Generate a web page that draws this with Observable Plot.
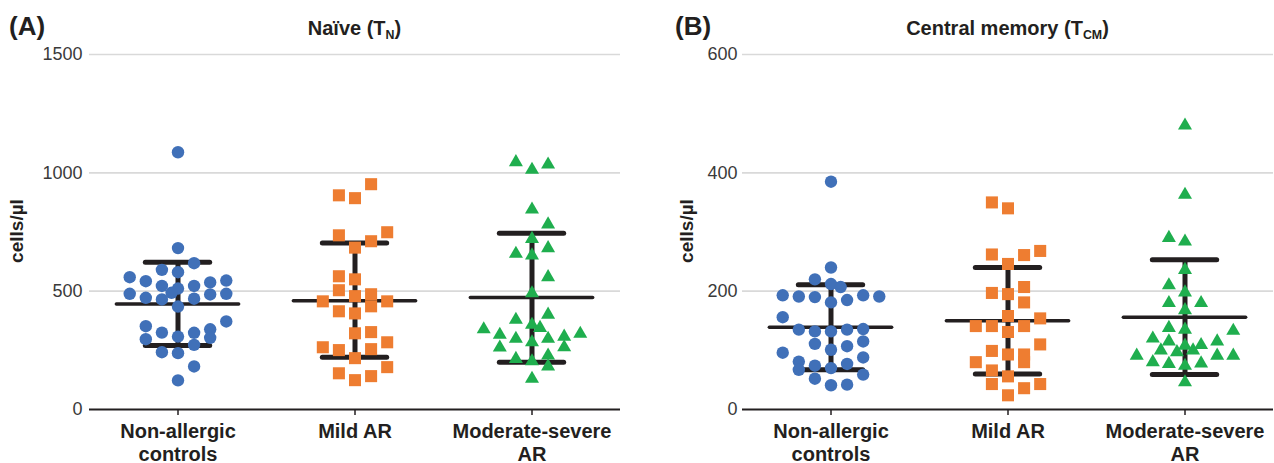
<!DOCTYPE html>
<html>
<head>
<meta charset="utf-8">
<script src="https://cdn.jsdelivr.net/npm/d3@7"></script>
<script src="https://cdn.jsdelivr.net/npm/@observablehq/plot@0.6"></script>
<style>
  html, body { margin: 0; padding: 0; background: #fff; }
  body { font-family: "Liberation Sans", Arial, sans-serif; color: #231f20; }
  #wrap { display: flex; width: 1274px; height: 463px; }
  .panel { position: relative; width: 637px; height: 463px; }
  .panel svg { position: absolute; left: 0; top: 44px; }
  .tag { position: absolute; font-weight: bold; font-size: 26px; line-height: 1; top: 13px; }
  .title { position: absolute; font-weight: bold; font-size: 20px; line-height: 1; top: 18px; text-align: center; white-space: nowrap; }
  .title sub { font-size: 0.62em; vertical-align: -0.3em; line-height: 0; }
  .ylab { position: absolute; font-weight: bold; font-size: 19px; line-height: 1; white-space: nowrap;
          transform: translate(-50%, -50%) rotate(-90deg); top: 231px; }
</style>
</head>
<body>
<div id="wrap">
  <div class="panel" id="pA">
    <div class="tag" style="left:9px">(A)</div>
    <div class="title" style="left:89px;width:531px">Naïve (T<sub>N</sub>)</div>
    <div class="ylab" style="left:16px">cells/µl</div>
  </div>
  <div class="panel" id="pB">
    <div class="tag" style="left:38px">(B)</div>
    <div class="title" style="left:105px;width:531px">Central memory (T<sub>CM</sub>)</div>
    <div class="ylab" style="left:49px">cells/µl</div>
  </div>
</div>
<script>
// ---- categories ----
const groups = ["Non-allergic controls", "Mild AR", "Moderate-severe AR"];
const groupLabels = ["Non-allergic\ncontrols", "Mild AR", "Moderate-severe\nAR"];
const groupColors = ["#4070b8", "#ee7d31", "#1fae4e"];
const groupSymbols = ["circle", "square", "triangle"];

// ---- Panel A: Naive (T_N), cells/µl ----
const naiveControls = [1087, 682, 618, 590, 580, 559, 542, 545, 537, 522, 522, 511, 493, 489, 489, 486, 472, 465, 468, 435, 372, 352, 339, 325, 324, 308, 297, 303, 273, 242, 238, 182, 123];
const naiveControlsSlot = [0, 0, 1, -1, 0, -3, -2, 3, 2, -1, 1, 0, -0.4, -3, 3, 2, -2, -1, 1, 0, 3, -2, 2, -1, 1, 0, -2, 2, 1, -1, 0, 1, 0];
const naiveMild = [952, 905, 893, 749, 736, 711, 684, 563, 550, 504, 487, 479, 457, 457, 436, 415, 406, 322, 327, 284, 263, 251, 255, 217, 179, 153, 141, 124];
const naiveMildSlot = [1, -1, 0, 2, -1, 1, 0, -1, 0, -1, 1, 0, -2, 2, 1, -1, 0, 0, 1, 2, -2, -1, 1, 0, 2, -1, 1, 0];
const naiveModSev = [1045, 1035, 1013, 845, 782, 721, 682, 658, 651, 559, 491, 401, 379, 358, 345, 339, 316, 299, 299, 308, 320, 284, 262, 263, 228, 214, 204, 182, 130];
const naiveModSevSlot = [-1, 1, 0, 0, 1, 0, 1, -1, 0, 1, 0, 1, -1, 0, 0.5, -3, -2, -1, 1, 2, 3, 0, -2, 2, 1, -1, 0, 1, 0];
const naiveMean = [446, 460, 473];
const naiveUpper = [622, 703, 745];
const naiveLower = [270, 221, 200];
const naiveTicks = [0, 500, 1000, 1500];

// ---- Panel B: Central memory (T_CM), cells/µl ----
const cmControls = [385, 240, 220, 212, 207, 193, 191, 190, 193, 191, 185, 181, 156, 135, 132, 132, 135, 136, 111, 115, 101, 107, 96, 88, 81, 67, 74, 70, 77, 59, 52, 41, 42];
const cmControlsSlot = [0, 0, -1, 0, 0.6, -3, -2, -1, 2, 3, 1, 0, -3, -2, -1, 0, 1, 2, -1, 2, 0, 1, -3, 2, -2, -2, -1, 0, 1, 2, -1, 0, 1];
const cmMild = [350, 340, 262, 261, 268, 246, 197, 207, 195, 181, 158, 154, 141, 141, 141, 131, 110, 99, 93, 93, 80, 80, 66, 56, 43, 36, 43, 24];
const cmMildSlot = [-1, 0, -1, 1, 2, 0, -1, 1, 0, 1, 0, 2, -2, -1, 1, 0, 2, -1, 0, 1, -2, 1, -1, 0, -1, 1, 2, 0];
const cmModSev = [480, 363, 290, 284, 236, 210, 198, 180, 180, 168, 138, 135, 133, 120, 115, 115, 109, 108, 100, 97, 100, 91, 91, 91, 80, 77, 74, 78, 46];
const cmModSevSlot = [0, 0, -1, 0, 0, -1, 0, -1, 1, 0, -1, 0, 3, -2, -1, 2, 1, 0, -1.5, -0.5, 0.5, -3, 2, 3, -2, -1, 0, 1, 0];
const cmMean = [139, 150, 156];
const cmUpper = [211, 240, 253];
const cmLower = [67, 60, 59];
const cmTicks = [0, 200, 400, 600];

function buildRows(valueLists, slotLists) {
  const rows = [];
  valueLists.forEach((vals, gi) => {
    vals.forEach((v, j) => rows.push({group: groups[gi], value: v, slot: slotLists[gi][j]}));
  });
  return rows;
}
function buildSummary(mean, upper, lower) {
  return groups.map((g, i) => ({group: g, mean: mean[i], upper: upper[i], lower: lower[i]}));
}

const ink = "#231f20";

function panel({rows, summary, ticks, marginLeft, marginRight, tickPadding}) {
  const top = ticks[ticks.length - 1];
  return Plot.plot({
    width: 637,
    height: 419,
    marginLeft, marginRight,
    marginTop: 10,
    marginBottom: 54,
    style: {fontFamily: '"Liberation Sans", Arial, sans-serif', color: ink, background: "transparent", overflow: "visible"},
    fx: {domain: groups, padding: 0, label: null, axis: null},
    x: {domain: [-5.5, 5.5], axis: null},
    y: {domain: [0, top], label: null, axis: null},
    marks: [
      Plot.gridY(ticks.filter(t => t > 0), {stroke: "#d9d9d9", strokeOpacity: 1, strokeWidth: 1.6}),
      Plot.axisY({ticks, tickSize: 0, tickPadding, fontSize: 18, fill: "#3a3a3a", label: null, tickFormat: d => String(d)}),
      Plot.ruleY([0], {stroke: ink, strokeWidth: 2}),
      Plot.axisFx({
        anchor: "bottom",
        tickSize: 6, tickPadding: 6, stroke: ink, strokeWidth: 1.5,
        fontSize: 20, fontWeight: "bold", fill: ink, lineHeight: 1.15,
        tickFormat: g => groupLabels[groups.indexOf(g)], label: null
      }),
      Plot.ruleX(summary, {fx: "group", x: 0, y1: "lower", y2: "upper", stroke: ink, strokeWidth: 5}),
      Plot.ruleY(summary, {fx: "group", y: "upper", x1: -2, x2: 2, stroke: ink, strokeWidth: 5, strokeLinecap: "round"}),
      Plot.ruleY(summary, {fx: "group", y: "lower", x1: -2, x2: 2, stroke: ink, strokeWidth: 5, strokeLinecap: "round"}),
      Plot.ruleY(summary, {fx: "group", y: "mean", x1: -3.8, x2: 3.8, stroke: ink, strokeWidth: 3.5, strokeLinecap: "round"}),
      ...groups.map((g, i) => Plot.dot(rows.filter(d => d.group === g), {
        fx: "group", x: "slot", y: "value",
        symbol: groupSymbols[i], fill: groupColors[i],
        r: i === 0 ? 6.2 : i === 1 ? 6.8 : 5.2
      }))
    ]
  });
}

const plotA = panel({
  rows: buildRows([naiveControls, naiveMild, naiveModSev], [naiveControlsSlot, naiveMildSlot, naiveModSevSlot]),
  summary: buildSummary(naiveMean, naiveUpper, naiveLower),
  ticks: naiveTicks, marginLeft: 89, marginRight: 17, tickPadding: 7
});
const plotB = panel({
  rows: buildRows([cmControls, cmMild, cmModSev], [cmControlsSlot, cmMildSlot, cmModSevSlot]),
  summary: buildSummary(cmMean, cmUpper, cmLower),
  ticks: cmTicks, marginLeft: 105, marginRight: 1, tickPadding: 5
});
document.getElementById("pA").appendChild(plotA);
document.getElementById("pB").appendChild(plotB);
</script>
</body>
</html>
